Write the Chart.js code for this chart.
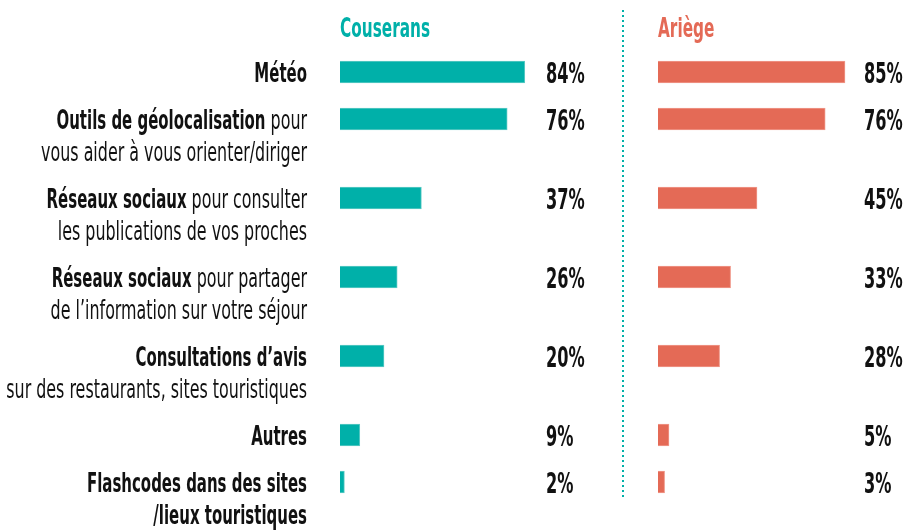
<!DOCTYPE html>
<html>
<head>
<meta charset="utf-8">
<script src="https://cdn.jsdelivr.net/npm/chart.js@4"></script>
<style>
  body { margin: 0; background: #fff; }
  #wrap { position: relative; width: 920px; height: 532px; overflow: hidden; }
  canvas { position: absolute; top: 0; }
  #left { left: 0; }
  #right { left: 610px; }
</style>
</head>
<body>
<div id="wrap">
  <canvas id="left" width="600" height="532"></canvas>
  <canvas id="right" width="310" height="532"></canvas>
</div>
<script>
// Données
const regions = ["Couserans", "Ariège"];
// chaque ligne : [partie en gras, partie normale]
const labelLines = [
  [["Météo", ""]],
  [["Outils de géolocalisation", " pour"], ["", "vous aider à vous orienter/diriger"]],
  [["Réseaux sociaux", " pour consulter"], ["", "les publications de vos proches"]],
  [["Réseaux sociaux", " pour partager"], ["", "de l’information sur votre séjour"]],
  [["Consultations d’avis", ""], ["", "sur des restaurants, sites touristiques"]],
  [["Autres", ""]],
  [["Flashcodes dans des sites", ""], ["/lieux touristiques", ""]]
];
const couserans = [84, 76, 37, 26, 20, 9, 2];
const ariege = [85, 76, 45, 33, 28, 5, 3];

const TEAL = "#00b0a9";
const CORAL = "#e46a56";
const FONT = "'DejaVu Sans Condensed', 'DejaVu Sans', sans-serif";

// position verticale de chaque ligne (en px), selon le nombre de lignes du libellé
const LINE_H = 32;
const rowPos = [];
let acc = 0;
labelLines.forEach((l) => {
  rowPos.push(acc);
  acc += l.length * LINE_H + 15;
});

function makeData(values) {
  return values.map((v, i) => ({ x: v, y: rowPos[i] }));
}

// texte resserré horizontalement (police condensée)
function drawText(ctx, text, x, y, font, sx, align) {
  ctx.save();
  ctx.font = font;
  ctx.textAlign = align;
  ctx.translate(x, y);
  ctx.scale(sx, 1);
  ctx.fillText(text, 0, 0);
  ctx.restore();
}
function textWidth(ctx, text, font, sx) {
  ctx.save();
  ctx.font = font;
  const w = ctx.measureText(text).width * sx;
  ctx.restore();
  return w;
}

const textPlugin = {
  id: "texts",
  afterDatasetsDraw(chart, args, opts) {
    const ctx = chart.ctx;
    const area = chart.chartArea;
    const yScale = chart.scales.y;
    ctx.save();
    ctx.textBaseline = "alphabetic";

    // titre
    ctx.fillStyle = opts.color;
    drawText(ctx, opts.title, area.left, 37, "bold 27px " + FONT, 0.63, "left");

    // valeurs
    ctx.fillStyle = "#111";
    opts.values.forEach((v, i) => {
      const y = yScale.getPixelForValue(rowPos[i]) + 10.5;
      drawText(ctx, v + "%", area.left + 206, y, "bold 29px " + FONT, 0.62, "left");
    });

    // libellés (panneau de gauche seulement)
    if (opts.labels) {
      const right = area.left - 33;
      const fReg = "26px " + FONT, fBold = "bold 26px " + FONT;
      const sReg = 0.68, sBold = 0.64;
      labelLines.forEach((lines, i) => {
        const y0 = yScale.getPixelForValue(rowPos[i]) + 10;
        lines.forEach((parts, j) => {
          const y = y0 + j * LINE_H;
          const w = textWidth(ctx, parts[1], fReg, sReg);
          drawText(ctx, parts[1], right, y, fReg, sReg, "right");
          drawText(ctx, parts[0], right - w, y, fBold, sBold, "right");
        });
      });
    }

    // séparateur pointillé
    if (opts.separator) {
      ctx.strokeStyle = TEAL;
      ctx.lineWidth = 2;
      ctx.setLineDash([2, 3]);
      ctx.beginPath();
      ctx.moveTo(13, 10);
      ctx.lineTo(13, 498);
      ctx.stroke();
    }
    ctx.restore();
  }
};

function makeChart(id, values, color, border, padLeft, padRight, title, withLabels, separator) {
  return new Chart(document.getElementById(id), {
    type: "bar",
    data: {
      datasets: [{
        label: title,
        data: makeData(values),
        backgroundColor: color,
        borderColor: border,
        borderWidth: 1,
        barThickness: 22
      }]
    },
    options: {
      responsive: false,
      animation: false,
      indexAxis: "y",
      layout: { padding: { left: padLeft, right: padRight, top: 0, bottom: 0 } },
      scales: {
        x: { type: "linear", min: 0, max: 100, display: false },
        y: { type: "linear", min: -72, max: 460, reverse: true, offset: false, display: false }
      },
      plugins: {
        legend: { display: false },
        tooltip: { enabled: false },
        texts: { title: title, color: color, values: values, labels: withLabels, separator: separator }
      }
    },
    plugins: [textPlugin]
  });
}

makeChart("left", couserans, TEAL, "#5fcbc6", 340, 40, regions[0], true, false);
makeChart("right", ariege, CORAL, "#f09a8c", 48, 42, regions[1], false, true);
</script>
</body>
</html>
